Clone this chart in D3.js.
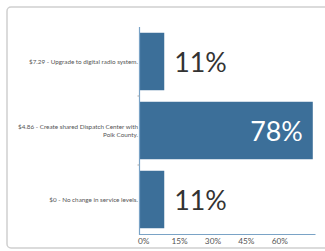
<!DOCTYPE html>
<html><head><meta charset="utf-8">
<script src="https://cdn.jsdelivr.net/npm/d3@7"></script>
<style>
html,body{margin:0;padding:0;background:#fff;}
svg{display:block;}
</style></head>
<body><svg id="c" width="325" height="251"></svg>
<script>
const categories = ["$7.29 - Upgrade to digital radio system.", "$4.86 - Create shared Dispatch Center with\nPolk County.", "$0 - No change in service levels."];
const values = [0.1111, 0.7778, 0.1111];
const valueLabels = ["11%", "78%", "11%"];
const tickValues = [0, 0.15, 0.30, 0.45, 0.60];
const tickLabels = ["0%", "15%", "30%", "45%", "60%"];

const svg = d3.select("#c");
const font = "Lato, sans-serif";

// card border
svg.append("rect").attr("x", 7).attr("y", 7).attr("width", 340).attr("height", 241)
  .attr("rx", 4).attr("fill", "#fff").attr("stroke", "#cfcfcf").attr("stroke-width", 1.5);

const x = d3.scaleLinear().domain([0, 0.79]).range([139.5, 315.5]);
const y = d3.scaleBand().domain(d3.range(categories.length)).range([27, 234])
  .paddingInner(0.167).paddingOuter(0.0835);

const barColor = "#3c6f99";
const axisColor = "#7aa3c6";

// bars
svg.selectAll("rect.bar").data(values).join("rect").attr("class", "bar")
  .attr("x", x(0)).attr("y", (d, i) => y(i))
  .attr("width", d => x(d) - x(0)).attr("height", y.bandwidth())
  .attr("fill", barColor);

// value labels
svg.selectAll("text.val").data(values).join("text").attr("class", "val")
  .attr("x", d => d > 0.5 ? x(d) - 10 : x(d) + 10)
  .attr("y", (d, i) => y(i) + y.bandwidth() / 2 + 10.5)
  .attr("text-anchor", d => d > 0.5 ? "end" : "start")
  .attr("fill", d => d > 0.5 ? "#fff" : "#333")
  .style("font-family", font).style("font-size", "26.8px")
  .text((d, i) => valueLabels[i]);

// y axis line with small ticks
const yAxis = svg.append("g");
yAxis.append("line").attr("x1", x(0)).attr("x2", x(0)).attr("y1", 27).attr("y2", 235)
  .attr("stroke", axisColor).attr("stroke-width", 1.2);
const bounds = [1, 2].map(i => y(i) - y.step() * y.paddingInner() / 2);
yAxis.selectAll("line.t").data(bounds).join("line").attr("class", "t")
  .attr("x1", x(0) - 2).attr("x2", x(0)).attr("y1", d => d).attr("y2", d => d)
  .attr("stroke", "#aaa").attr("stroke-width", 1);

// category labels
const lh = 8;
categories.forEach((c, i) => {
  const lines = c.split("\n");
  const cy = y(i) + y.bandwidth() / 2;
  const t = svg.append("text").attr("text-anchor", "end")
    .attr("fill", "#555").style("font-family", font).style("font-size", "6.3px");
  lines.forEach((l, k) => {
    t.append("tspan").attr("x", x(0) - 1.5)
      .attr("y", cy + 2.2 + (k - (lines.length - 1) / 2) * lh)
      .text(l);
  });
});

// x axis
const xg = svg.append("g");
xg.append("line").attr("x1", x(0)).attr("x2", x.range()[1]).attr("y1", 234.5).attr("y2", 234.5)
  .attr("stroke", axisColor).attr("stroke-width", 1.2);
xg.selectAll("text").data(tickValues).join("text")
  .attr("x", d => x(d) - 1.5).attr("y", 243.5)
  .attr("text-anchor", "start").attr("fill", "#555")
  .style("font-family", font).style("font-size", "8.3px")
  .text((d, i) => tickLabels[i]);
</script></body></html>
